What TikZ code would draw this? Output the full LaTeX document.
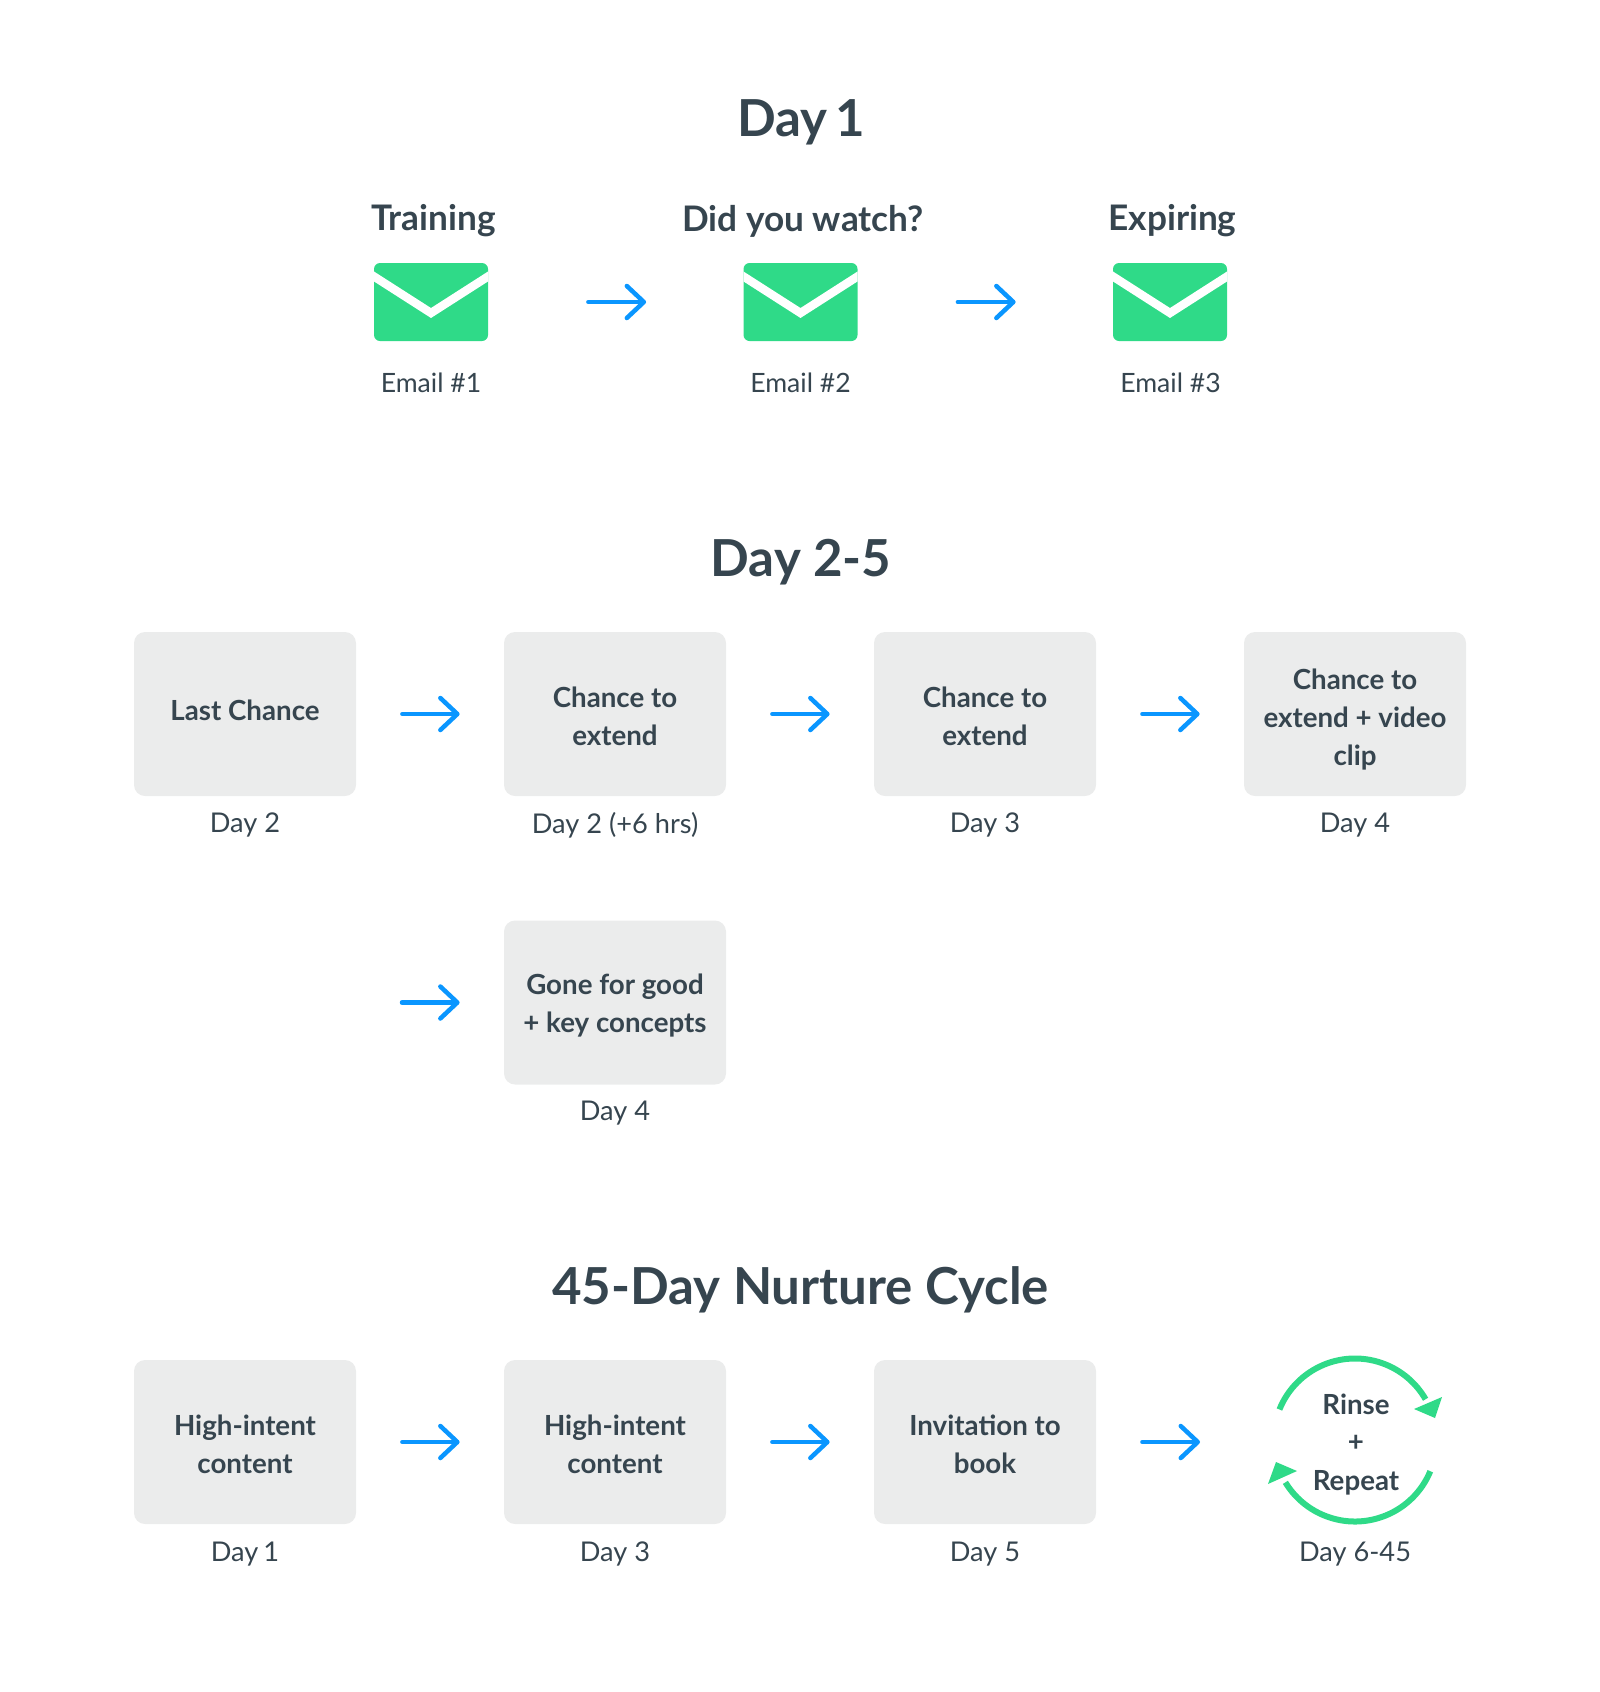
\documentclass[tikz,border=0pt]{standalone}
\usepackage{fontspec}
\setmainfont{Lato}
\usetikzlibrary{calc}
\usetikzlibrary{arrows.meta}
\definecolor{ink}{HTML}{36454F}
\definecolor{mint}{HTML}{2FDA88}
\definecolor{sky}{HTML}{0A96FF}
\definecolor{card}{HTML}{EBECEC}
\newcommand\pad[1]{\rule{0pt}{#1}}
\tikzset{
  heading/.style={text=ink,font=\bfseries\fontsize{25.5}{30}\selectfont},
  subhead/.style={text=ink,font=\bfseries\fontsize{17.6}{22}\selectfont},
  daytag/.style={text=ink,font=\fontsize{13.6}{16}\selectfont},
  mailtag/.style={text=ink,font=\fontsize{13.3}{16}\selectfont},
  looptag/.style={text=ink,font=\bfseries\fontsize{13.85}{19}\selectfont},
  box/.style={fill=card,rounded corners=5.5pt,minimum width=111pt,minimum height=82pt,inner sep=0pt,
    align=center,text=ink,font=\bfseries\fontsize{13.85}{19}\selectfont},
  mail/.style={fill=mint,rounded corners=3pt,minimum width=57pt,minimum height=39pt,inner sep=0pt,
    path picture={\draw[white,line width=4.2pt,sharp corners,miter limit=10]
      ($(path picture bounding box.center)+(-64,30)$) -- ($(path picture bounding box.center)+(0,-11)$)
      -- ($(path picture bounding box.center)+(64,30)$);}},
  flow/.style={draw=sky,line width=2.25pt,line cap=round,-{Straight Barb[round,length=8.5pt,width=16pt]}},
  loopline/.style={draw=mint,line width=3pt},
  looptip/.style={fill=mint},
}
\begin{document}
\begin{tikzpicture}[x=.5pt,y=.5pt]
\useasboundingbox (0,0) rectangle (1600,-1692);
%Day 1
\node[heading] (T1) at (801,-122) {Day\hspace{-2.5pt} 1};
\node[subhead] (S1) at (433.5,-221) {Training};
\node[subhead] (S2) at (803,-221) {Did you watch?};
\node[subhead] (S3) at (1172.5,-221) {Expiring};
\node[mail] (M1) at (431,-302) {};
\node[mail] (M2) at (800.5,-302) {};
\node[mail] (M3) at (1170,-302) {};
\node[mailtag] (L1) at (431,-383) {Email \#1};
\node[mailtag] (L2) at (800.5,-383) {Email \#2};
\node[mailtag] (L3) at (1170.5,-383) {Email \#3};
\draw[flow,shorten <=50pt,shorten >=48.5pt] (M1) -- (M2);
\draw[flow,shorten <=50pt,shorten >=48.5pt] (M2) -- (M3);
%Day 2-5
\node[heading] (T2) at (801,-562) {Day 2-5};
\node[box] (A1) at (245,-714) {Last Chance\rule[-3.8pt]{0pt}{0pt}};
\node[box] (A2) at (615,-714) {\pad{12.2pt}Chance to\\extend};
\node[box] (A3) at (985,-714) {\pad{12.2pt}Chance to\\extend};
\node[box] (A4) at (1355,-714) {\pad{15.4pt}Chance to\\extend + video\\clip};
\node[box] (A5) at (615,-1002.5) {\pad{13.8pt}Gone for good\\+ key concepts};
\node[daytag] (D1) at (245,-825) {Day 2};
\node[daytag] (D2) at (615,-825) {Day 2 (+6 hrs)};
\node[daytag] (D3) at (985,-825) {Day 3};
\node[daytag] (D4) at (1355,-825) {Day 4};
\node[daytag] (D5) at (615,-1113) {Day 4};
\coordinate (F) at (245,-1002.5);
\draw[flow,shorten <=23pt,shorten >=22pt] (A1) -- (A2);
\draw[flow,shorten <=23pt,shorten >=22pt] (A2) -- (A3);
\draw[flow,shorten <=23pt,shorten >=22pt] (A3) -- (A4);
\draw[flow,shorten <=78.5pt,shorten >=22pt] (F) -- (A5);
%45-Day Nurture Cycle
\node[heading] (T3) at (800.5,-1290) {45-Day Nurture Cycle};
\node[box] (B1) at (245,-1442) {\pad{12.2pt}High-intent\\content};
\node[box] (B2) at (615,-1442) {\pad{12.2pt}High-intent\\content};
\node[box] (B3) at (985,-1442) {\pad{12.2pt}Invitation to\\book};
\node[looptag] (R1) at (1356,-1404) {Rinse};
\node[looptag] (R2) at (1356,-1443) {+};
\node[looptag] (R3) at (1356,-1483) {Repeat};
\node[daytag] (E1) at (245,-1554) {Day\hspace{-1pt} 1};
\node[daytag] (E2) at (615,-1554) {Day 3};
\node[daytag] (E3) at (985,-1554) {Day 5};
\node[daytag] (E4) at (1355,-1554) {Day 6-45};
\coordinate (G) at (1355,-1442);
\draw[flow,shorten <=23pt,shorten >=77.5pt] (B3) -- (G);
\draw[flow,shorten <=23pt,shorten >=22pt] (B1) -- (B2);
\draw[flow,shorten <=23pt,shorten >=22pt] (B2) -- (B3);
\coordinate (C) at (1355,-1440);
\draw[loopline] (C) ++(158:81.5) arc (158:30:81.5);
\draw[loopline] (C) ++(-22.5:81.5) arc (-22.5:-148.7:81.5);
\fill[looptip] (1442,-1397) -- (1435,-1418) -- (1414,-1409) -- cycle;
\fill[looptip] (1276,-1462) -- (1297,-1471) -- (1268,-1484) -- cycle;
\end{tikzpicture}
\end{document}
